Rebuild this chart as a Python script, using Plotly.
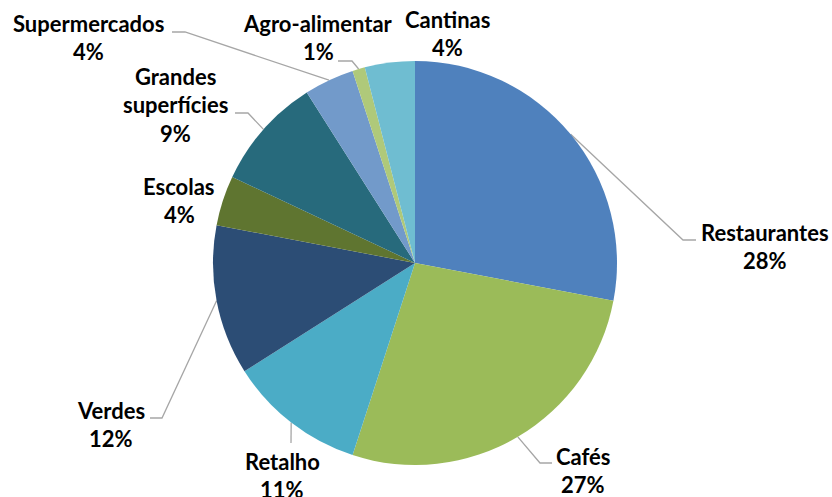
import math
import plotly.graph_objects as go

# Share of each sector
labels = ["Restaurantes", "Cafés", "Retalho", "Verdes", "Escolas",
          "Grandes superfícies", "Supermercados", "Agro-alimentar", "Cantinas"]
values = [28, 27, 11, 12, 4, 9, 4, 1, 4]
colors = ["#4F81BD", "#9BBB59", "#4BACC6", "#2C4D75", "#5F7530",
          "#276A7C", "#729ACA", "#AFC97A", "#6FBDD1"]

W, H = 832, 497
CX, CY, R = 415, 263, 202

# Label text lines and placement (pixel space): centre x, first line y
label_lines = {
    "Restaurantes": ["Restaurantes"],
    "Cafés": ["Cafés"],
    "Retalho": ["Retalho"],
    "Verdes": ["Verdes"],
    "Escolas": ["Escolas"],
    "Grandes superfícies": ["Grandes", "superfícies"],
    "Supermercados": ["Supermercados"],
    "Agro-alimentar": ["Agro-alimentar"],
    "Cantinas": ["Cantinas"],
}
label_pos = {
    "Restaurantes": (765, 232),
    "Cafés": (583, 456),
    "Retalho": (282, 461),
    "Verdes": (111, 410),
    "Escolas": (179, 186),
    "Grandes superfícies": (175, 76),
    "Supermercados": (88, 23),
    "Agro-alimentar": (318, 23),
    "Cantinas": (447, 19),
}
# Leader line elbow and end points (None = no leader)
leader = {
    "Restaurantes": ((683, 240), (696, 240)),
    "Cafés": ((540, 463), (552, 463)),
    "Retalho": ((291, 443), (291, 443)),
    "Verdes": ((162, 418), (150, 418)),
    "Escolas": None,
    "Grandes superfícies": ((248, 113), (235, 113)),
    "Supermercados": ((185, 32), (172, 32)),
    "Agro-alimentar": ((352, 61), (338, 61)),
    "Cantinas": None,
}
LINE_H = 28.5

fig = go.Figure()

fig.add_trace(go.Pie(
    labels=labels, values=values, sort=False, direction="clockwise",
    rotation=0, textinfo="none", hoverinfo="label+percent",
    marker=dict(colors=colors, line=dict(width=0)),
    domain=dict(x=[(CX - R) / W, (CX + R) / W],
                y=[(H - CY - R) / H, (H - CY + R) / H]),
    showlegend=False,
))

total = sum(values)
cum = 0.0
annotations = []
for lab, v in zip(labels, values):
    mid = (cum + v / 2) / total * 2 * math.pi
    cum += v
    sx = CX + R * math.sin(mid)
    sy = CY - R * math.cos(mid)
    if leader[lab] is not None:
        (ex, ey), (tx, ty) = leader[lab]
        fig.add_trace(go.Scatter(
            x=[sx, ex, tx], y=[sy, ey, ty], mode="lines",
            line=dict(color="#A6A6A6", width=1.3),
            hoverinfo="skip", showlegend=False, xaxis="x", yaxis="y",
        ))
    lx, ly = label_pos[lab]
    lines = label_lines[lab] + [f"{v / total * 100:.0f}%"]
    for i, t in enumerate(lines):
        annotations.append(dict(
            x=lx, y=ly + i * LINE_H, xref="x", yref="y", text=f"<b>{t}</b>",
            showarrow=False, xanchor="center", yanchor="middle",
            font=dict(family="Lato", size=22, color="#000000"),
        ))

fig.update_layout(
    width=W, height=H, margin=dict(l=0, r=0, t=0, b=0),
    paper_bgcolor="white", plot_bgcolor="rgba(0,0,0,0)",
    xaxis=dict(range=[0, W], visible=False, fixedrange=True, domain=[0, 1]),
    yaxis=dict(range=[H, 0], visible=False, fixedrange=True, domain=[0, 1]),
    annotations=annotations,
)

fig.write_html("out.html")
